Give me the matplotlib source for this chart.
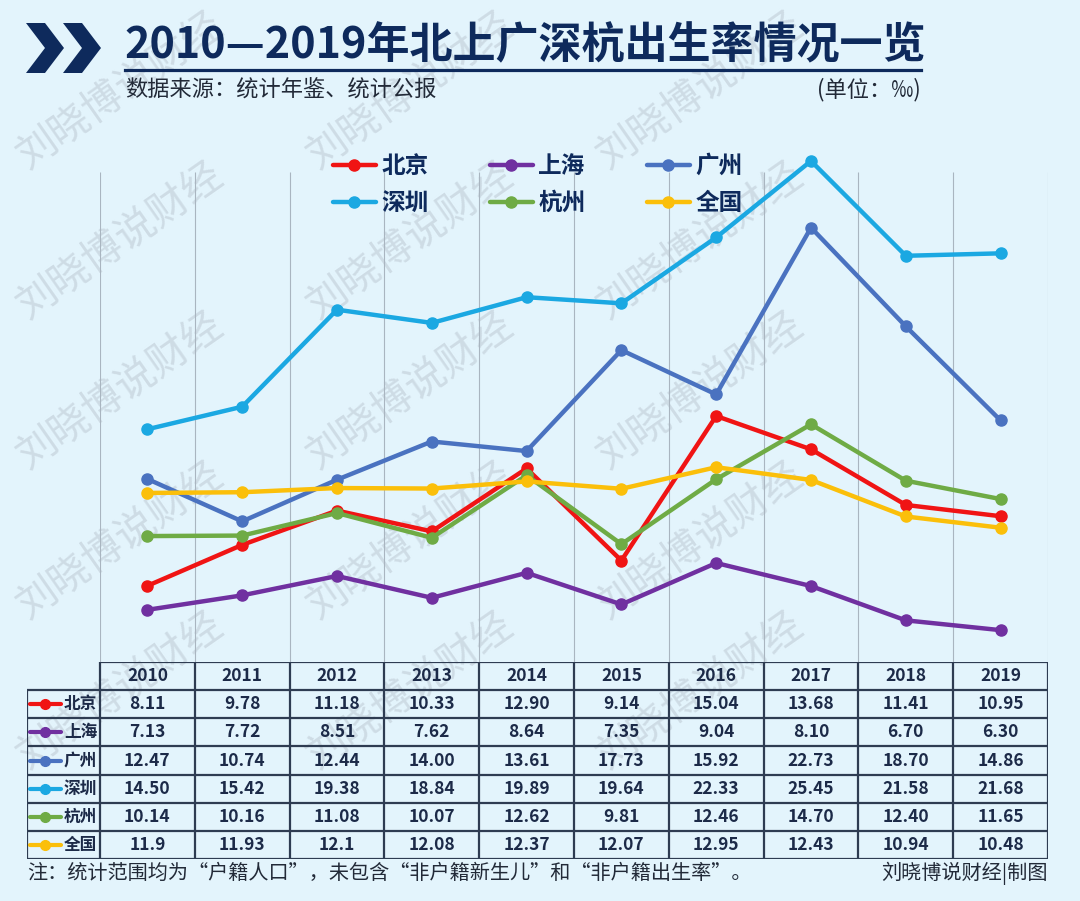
import numpy as np
import matplotlib.pyplot as plt
from matplotlib.patches import Polygon
from matplotlib.lines import Line2D

plt.rcParams['font.family'] = ['Noto Sans CJK SC', 'DejaVu Sans']

# 数据
years = ['2010', '2011', '2012', '2013', '2014', '2015', '2016', '2017', '2018', '2019']
cities = ['北京', '上海', '广州', '深圳', '杭州', '全国']
beijing = [8.11, 9.78, 11.18, 10.33, 12.90, 9.14, 15.04, 13.68, 11.41, 10.95]
shanghai = [7.13, 7.72, 8.51, 7.62, 8.64, 7.35, 9.04, 8.10, 6.70, 6.30]
guangzhou = [12.47, 10.74, 12.44, 14.00, 13.61, 17.73, 15.92, 22.73, 18.70, 14.86]
shenzhen = [14.50, 15.42, 19.38, 18.84, 19.89, 19.64, 22.33, 25.45, 21.58, 21.68]
hangzhou = [10.14, 10.16, 11.08, 10.07, 12.62, 9.81, 12.46, 14.70, 12.40, 11.65]
national = [11.9, 11.93, 12.1, 12.08, 12.37, 12.07, 12.95, 12.43, 10.94, 10.48]
colors = ['#f01414', '#7030a0', '#4a72c0', '#1ba8e2', '#6fab45', '#fbbf0a']

series = [beijing, shanghai, guangzhou, shenzhen, hangzhou, national]

W, H = 1080, 901
navy = '#0e2a5c'
txt = '#1c2a48'
bg = '#e3f4fc'


def fx(x):
    return x / W


def fy(y):
    return 1 - y / H


fig = plt.figure(figsize=(W / 100, H / 100), dpi=100)
fig.patch.set_facecolor(bg)

# 水印 (只保留完整落在画面内的)
for y0 in np.arange(90, 900, 150):
    for x0 in np.arange(120, 1100, 290):
        if 110 <= x0 <= W - 110 and 85 <= y0 <= H - 85:
            fig.text(fx(x0), fy(y0), '刘晓博说财经', fontsize=29, color='#b4bfca',
                     alpha=0.45, rotation=35, ha='center', va='center',
                     fontweight='light', zorder=-5)

# 标题
for x0 in (26, 63):
    w = 38
    pts = [(x0, 23), (x0 + w * 0.5, 23), (x0 + w, 48), (x0 + w * 0.5, 73), (x0, 73), (x0 + w * 0.5, 48)]
    fig.patches.append(Polygon([(fx(a), fy(b)) for a, b in pts], closed=True,
                               transform=fig.transFigure, facecolor=navy, edgecolor='none'))
fig.text(fx(124), fy(45), '2010—2019年北上广深杭出生率情况一览', fontsize=31,
         fontweight='bold', color=navy, ha='left', va='center')
fig.lines.append(Line2D([fx(125), fx(921)], [fy(70), fy(70)], transform=fig.transFigure,
                        color=navy, lw=2.3))
fig.text(fx(125), fy(90), '数据来源：统计年鉴、统计公报', fontsize=16, color='#222a38',
         ha='left', va='center')
fig.text(fx(921), fy(90), '(单位：‰)', fontsize=16, color='#222a38', ha='right', va='center')

# 折线图
ax = fig.add_axes([fx(100), fy(662), fx(948), 490 / H])
ax.set_facecolor('none')
x = np.arange(len(years))
lines = []
for name, vals, c in zip(cities, series, colors):
    ln, = ax.plot(x, vals, color=c, lw=3.2, marker='o', markersize=8, label=name,
                  clip_on=False, solid_capstyle='round')
    lines.append(ln)
ax.vlines(np.arange(-0.5, len(years)), 5, 25, color='#a9b5c0', lw=0.8, zorder=0)
ax.set_xlim(-0.5, len(years) - 0.5)
ax.set_ylim(5, 25)
ax.axis('off')

order = [0, 3, 1, 4, 2, 5]
fig.legend([lines[i] for i in order], [cities[i] for i in order], ncol=3,
           loc='upper left', bbox_to_anchor=(fx(333), fy(154)), frameon=False,
           prop={'weight': 'bold', 'size': 17}, labelcolor=navy, handlelength=1.8,
           handletextpad=0.25, columnspacing=2.6, labelspacing=0.55, borderpad=0,
           borderaxespad=0)

# 数据表
tab = fig.add_axes([fx(27), fy(859), fx(1021), 197 / H])
tab.set_facecolor('none')
lab_w = 73 / 94.8
tab.set_xlim(-0.5 - lab_w, len(years) - 0.5)
tab.set_ylim(7, 0)
tab.axis('off')
edge = '#2e3c52'
tab.hlines(0, -0.5, len(years) - 0.5, color=edge, lw=1.6)
tab.hlines(np.arange(1, 8), -0.5 - lab_w, len(years) - 0.5, color=edge, lw=1.6)
tab.vlines(np.arange(-0.5, len(years)), 0, 7, color=edge, lw=1.6)
tab.vlines(-0.5 - lab_w, 1, 7, color=edge, lw=1.6)
for j, yr in enumerate(years):
    tab.text(j, 0.5, yr, ha='center', va='center', fontsize=12.5, fontweight='bold', color=txt)
for i, (name, vals, c) in enumerate(zip(cities, series, colors)):
    r = i + 1.5
    tab.plot([-1.24, -0.91], [r, r], color=c, lw=3, solid_capstyle='round', clip_on=False)
    tab.plot([-1.075], [r], 'o', color=c, markersize=7, clip_on=False)
    tab.text(-0.88, r, name, ha='left', va='center', fontsize=12, fontweight='bold', color=txt)
    for j, v in enumerate(vals):
        s = f'{v:g}' if name == '全国' else f'{v:.2f}'
        tab.text(j, r, s, ha='center', va='center', fontsize=12.5, fontweight='bold', color=txt)

# 脚注
fig.text(fx(27), fy(873), '注：统计范围均为“户籍人口”，未包含“非户籍新生儿”和“非户籍出生率”。',
         fontsize=14.5, color='#222a38', ha='left', va='center')
fig.text(fx(1048), fy(873), '刘晓博说财经|制图', fontsize=14.5, color='#222a38',
         ha='right', va='center')

fig.savefig('out.png', dpi=100, facecolor=bg)
